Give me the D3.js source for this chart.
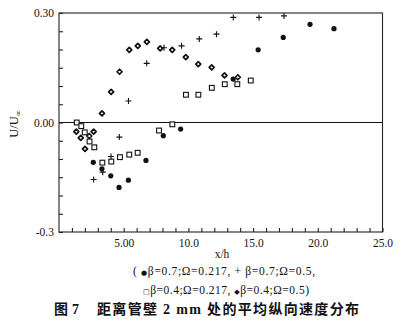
<!DOCTYPE html>
<html>
<head>
<meta charset="utf-8">
<script src="https://cdn.jsdelivr.net/npm/d3@7"></script>
<style>
  html, body { margin: 0; padding: 0; background: #fff; }
  svg { display: block; }
  text { font-family: "Liberation Serif", "Times New Roman", "DejaVu Serif", serif; fill: #111; }
</style>
</head>
<body>
<svg id="chart" width="412" height="324"></svg>
<script>
// Mean streamwise velocity 2 mm from the pipe wall, four flow cases
const circleX = [2.65, 3.32, 4.00, 4.64, 5.36, 6.72, 8.06, 9.40, 13.46, 15.39, 17.33, 19.40, 21.25];
const circleY = [-0.109, -0.127, -0.146, -0.178, -0.158, -0.104, -0.036, -0.018, 0.119, 0.199, 0.233, 0.269, 0.257];

const plusX = [2.68, 3.38, 4.02, 4.66, 5.37, 6.78, 8.11, 9.47, 10.84, 12.17, 13.47, 15.46, 17.39];
const plusY = [-0.156, -0.136, -0.093, -0.040, 0.059, 0.162, 0.205, 0.210, 0.229, 0.242, 0.288, 0.288, 0.292];

const squareX = [1.37, 1.72, 1.99, 2.36, 2.73, 3.35, 4.04, 4.71, 5.43, 6.08, 7.73, 8.76, 9.81, 10.77, 11.81, 12.81, 13.78, 14.82];
const squareY = [0.000, -0.010, -0.027, -0.052, -0.068, -0.110, -0.107, -0.095, -0.088, -0.083, -0.022, -0.005, 0.076, 0.076, 0.095, 0.105, 0.105, 0.115];

const diamondX = [1.34, 1.68, 2.01, 2.34, 2.68, 3.32, 4.03, 4.68, 5.43, 6.09, 6.79, 7.82, 8.75, 9.80, 10.76, 11.80, 12.79, 13.82];
const diamondY = [-0.025, -0.042, -0.072, -0.037, -0.025, 0.025, 0.084, 0.139, 0.199, 0.210, 0.221, 0.203, 0.199, 0.179, 0.160, 0.151, 0.129, 0.124];

const xTickValues = d3.range(1, 26);
const xTickLabels = {5: "5.00", 10: "10.0", 15: "15.0", 20: "20.0", 25: "25.0"};
const yTickValues = d3.range(-6, 7).map(k => k * 0.05);
const yTickLabels = {"0.30": "0.30", "0.00": "0.00", "-0.30": "-0.3"};

const xLabel = "x/h";
const legendLine1 = ["( ", "●", "β=0.7;Ω=0.217,  ", "+", " β=0.7;Ω=0.5,"];
const legendLine2 = ["□", "β=0.4;Ω=0.217,  ", "◆", "β=0.4;Ω=0.5)"];
const captionNumber = "图 7";
const captionText = "距离管壁 2 mm 处的平均纵向速度分布";

const svg = d3.select("#chart");
svg.append("rect").attr("width", 412).attr("height", 324).attr("fill", "#fff");

const x = d3.scaleLinear().domain([0, 25]).range([59, 382.5]);
const y = d3.scaleLinear().domain([-0.3, 0.3]).range([232, 13]);

// frame
svg.append("rect")
  .attr("x", x(0)).attr("y", y(0.3))
  .attr("width", x(25) - x(0)).attr("height", y(-0.3) - y(0.3))
  .attr("fill", "none").attr("stroke", "#222").attr("stroke-width", 1.1);

// zero line
svg.append("line")
  .attr("x1", x(0)).attr("x2", x(25))
  .attr("y1", y(0)).attr("y2", y(0))
  .attr("stroke", "#111").attr("stroke-width", 1.1);

// bottom axis, inward ticks
const xAxis = d3.axisBottom(x)
  .tickValues(xTickValues)
  .tickSize(-4)
  .tickPadding(7)
  .tickFormat(d => xTickLabels[d] || "");
const gx = svg.append("g").attr("transform", `translate(0,${y(-0.3)})`).call(xAxis);
gx.select(".domain").remove();
gx.selectAll(".tick line").attr("stroke", "#222").attr("stroke-width", 1.1);
gx.selectAll(".tick text").attr("font-size", 11.5)
  .style("font-family", "'Liberation Serif', serif").attr("fill", "#111");

// left axis, inward ticks
const yAxis = d3.axisLeft(y)
  .tickValues(yTickValues)
  .tickSize(-4)
  .tickPadding(5)
  .tickFormat(d => yTickLabels[d.toFixed(2)] || "");
const gy = svg.append("g").attr("transform", `translate(${x(0)},0)`).call(yAxis);
gy.select(".domain").remove();
gy.selectAll(".tick line").attr("stroke", "#222").attr("stroke-width", 1.1);
gy.selectAll(".tick text").attr("font-size", 11.5)
  .style("font-family", "'Liberation Serif', serif").attr("fill", "#111");

// axis titles
svg.append("text")
  .attr("x", 222).attr("y", 258)
  .attr("text-anchor", "middle").attr("font-size", 11.5)
  .text(xLabel);

const yl = svg.append("text")
  .attr("transform", "translate(18,124) rotate(-90)")
  .attr("text-anchor", "middle").attr("font-size", 12.5);
yl.append("tspan").text("U/U");
yl.append("tspan").attr("font-size", 8.5).attr("dy", 3).text("∞");

// markers
const pts = (xs, ys) => xs.map((v, i) => [v, ys[i]]);
const marks = svg.append("g");

marks.selectAll(".c").data(pts(circleX, circleY)).join("circle")
  .attr("cx", d => x(d[0])).attr("cy", d => y(d[1]))
  .attr("r", 2.6).attr("fill", "#111");

marks.selectAll(".s").data(pts(squareX, squareY)).join("rect")
  .attr("x", d => x(d[0]) - 2.4).attr("y", d => y(d[1]) - 2.4)
  .attr("width", 4.8).attr("height", 4.8)
  .attr("fill", "#fff").attr("stroke", "#111").attr("stroke-width", 1.1);

// small dark rhombus with a light centre
marks.selectAll(".d").data(pts(diamondX, diamondY)).join("path")
  .attr("transform", d => `translate(${x(d[0])},${y(d[1])})`)
  .attr("d", "M0,-2.5L2.5,0L0,2.5L-2.5,0Z")
  .attr("fill", "#fff").attr("stroke", "#111").attr("stroke-width", 1.7)
  .attr("stroke-linejoin", "round");

marks.selectAll(".p").data(pts(plusX, plusY)).join("path")
  .attr("transform", d => `translate(${x(d[0])},${y(d[1])})`)
  .attr("d", "M-3,0H3M0,-3V3")
  .attr("stroke", "#111").attr("stroke-width", 1.1).attr("fill", "none");

// legend text
function legendRow(parts, xStart, baseline, width) {
  const t = svg.append("text")
    .attr("x", xStart).attr("y", baseline)
    .attr("font-size", 11.5)
    .attr("textLength", width).attr("lengthAdjust", "spacing");
  parts.forEach(p => {
    const s = t.append("tspan").text(p);
    if (p === "●" || p === "□" || p === "◆") s.attr("font-size", 7).style("font-family", "'DejaVu Sans', sans-serif");
  });
}
legendRow(legendLine1, 133, 275, 182);
legendRow(legendLine2, 143, 294, 166);

// caption
const capFont = "'Liberation Serif', 'Noto Sans CJK SC', serif";
svg.append("text")
  .attr("x", 54).attr("y", 314)
  .attr("font-size", 14).attr("font-weight", "bold")
  .style("font-family", capFont)
  .attr("textLength", 25).attr("lengthAdjust", "spacing")
  .text(captionNumber);
svg.append("text")
  .attr("x", 97).attr("y", 314)
  .attr("font-size", 14).attr("font-weight", "bold")
  .style("font-family", capFont)
  .attr("textLength", 262).attr("lengthAdjust", "spacing")
  .text(captionText);
</script>
</body>
</html>
